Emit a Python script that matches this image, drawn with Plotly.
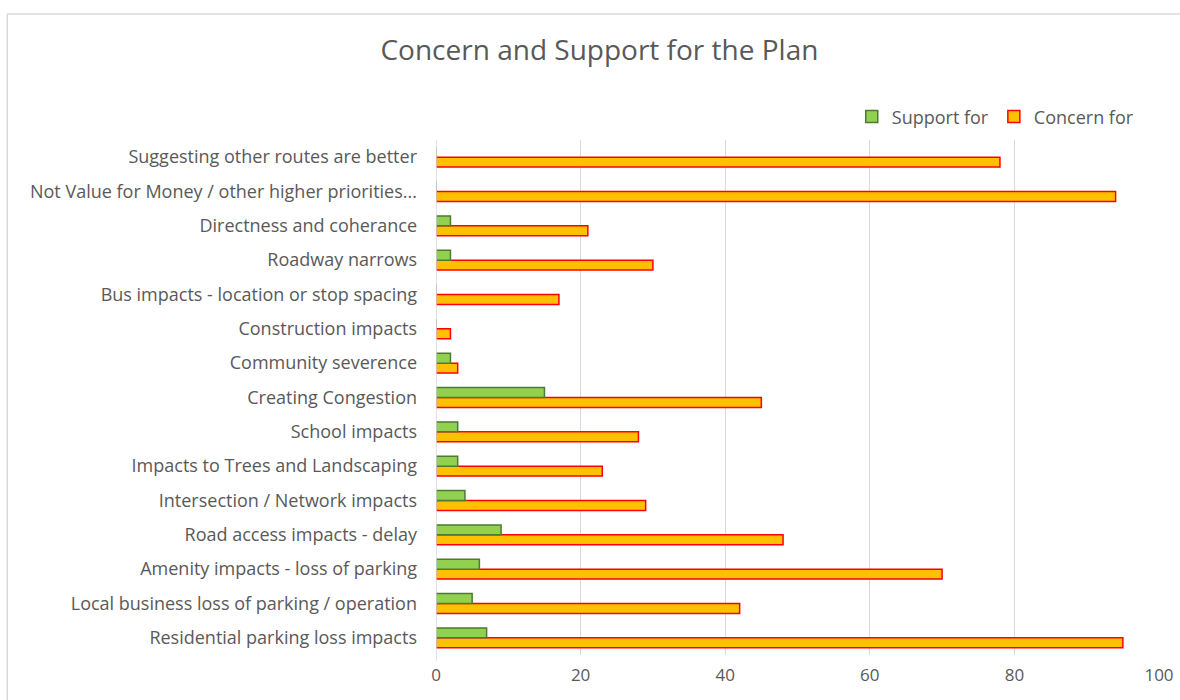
import plotly.graph_objects as go

# Categories listed bottom-to-top (first category sits at the bottom of the axis)
categories = [
    "Residential parking loss impacts",
    "Local business loss of parking / operation",
    "Amenity impacts - loss of parking",
    "Road access impacts - delay",
    "Intersection / Network impacts",
    "Impacts to Trees and Landscaping",
    "School impacts",
    "Creating Congestion",
    "Community severence",
    "Construction impacts",
    "Bus impacts - location or stop spacing",
    "Roadway narrows",
    "Directness and coherance",
    "Not Value for Money / other higher priorities...",
    "Suggesting other routes are better",
]
support_for = [7, 5, 6, 9, 4, 3, 3, 15, 2, 0, 0, 2, 2, 0, 0]
concern_for = [95, 42, 70, 48, 29, 23, 28, 45, 3, 2, 17, 30, 21, 94, 78]
x_ticks = [0, 20, 40, 60, 80, 100]

FONT = "Open Sans"
GREY = "#595959"

fig = go.Figure()
# Concern trace added first so the Support bar is drawn above it in each group
fig.add_trace(go.Bar(
    y=categories, x=concern_for, orientation="h", name="Concern for",
    marker=dict(color="#FFC000", line=dict(color="#FF0000", width=1.5)),
))
fig.add_trace(go.Bar(
    y=categories, x=support_for, orientation="h", name="Support for",
    marker=dict(color="#92D050", line=dict(color="#4E7A33", width=1.5)),
))

fig.update_layout(
    width=1180, height=700,
    margin=dict(l=436, r=21, t=140, b=45),
    paper_bgcolor="white", plot_bgcolor="white",
    barmode="group", bargap=0.42, bargroupgap=0.0,
    font=dict(family=FONT, color=GREY),
    title=dict(text="Concern and Support for the Plan", x=0.508, xanchor="center",
               y=0.928, yanchor="middle", font=dict(size=28, color=GREY, family=FONT)),
    legend=dict(orientation="h", traceorder="reversed", x=0.972, xanchor="right",
                y=1.045, yanchor="middle", font=dict(size=18, color=GREY),
                itemwidth=30, bgcolor="rgba(0,0,0,0)"),
    xaxis=dict(range=[0, 100], tickvals=x_ticks, showgrid=True, gridcolor="#D9D9D9",
               gridwidth=1, zeroline=False, showline=False, automargin=False,
               tickfont=dict(size=17, color=GREY), ticks="", ticklabelstandoff=8),
    yaxis=dict(categoryorder="array", categoryarray=categories, showgrid=False,
               showline=False, ticks="", automargin=False,
               tickfont=dict(size=18, color=GREY), ticklabelstandoff=18),
    shapes=[
        # chart frame (top and left edges visible in the window)
        dict(type="line", xref="paper", yref="paper", x0=-0.593, x1=1.1, y0=1.2447, y1=1.2447,
             line=dict(color="#D9D9D9", width=1.5)),
        dict(type="line", xref="paper", yref="paper", x0=-0.593, x1=-0.593, y0=-0.2, y1=1.2447,
             line=dict(color="#D9D9D9", width=1.5)),
        # value axis baseline at zero
        dict(type="line", xref="x", yref="paper", x0=0, x1=0, y0=-0.012, y1=1.0,
             line=dict(color="#D9D9D9", width=1.5)),
    ],
)

fig.write_html("out.html")
